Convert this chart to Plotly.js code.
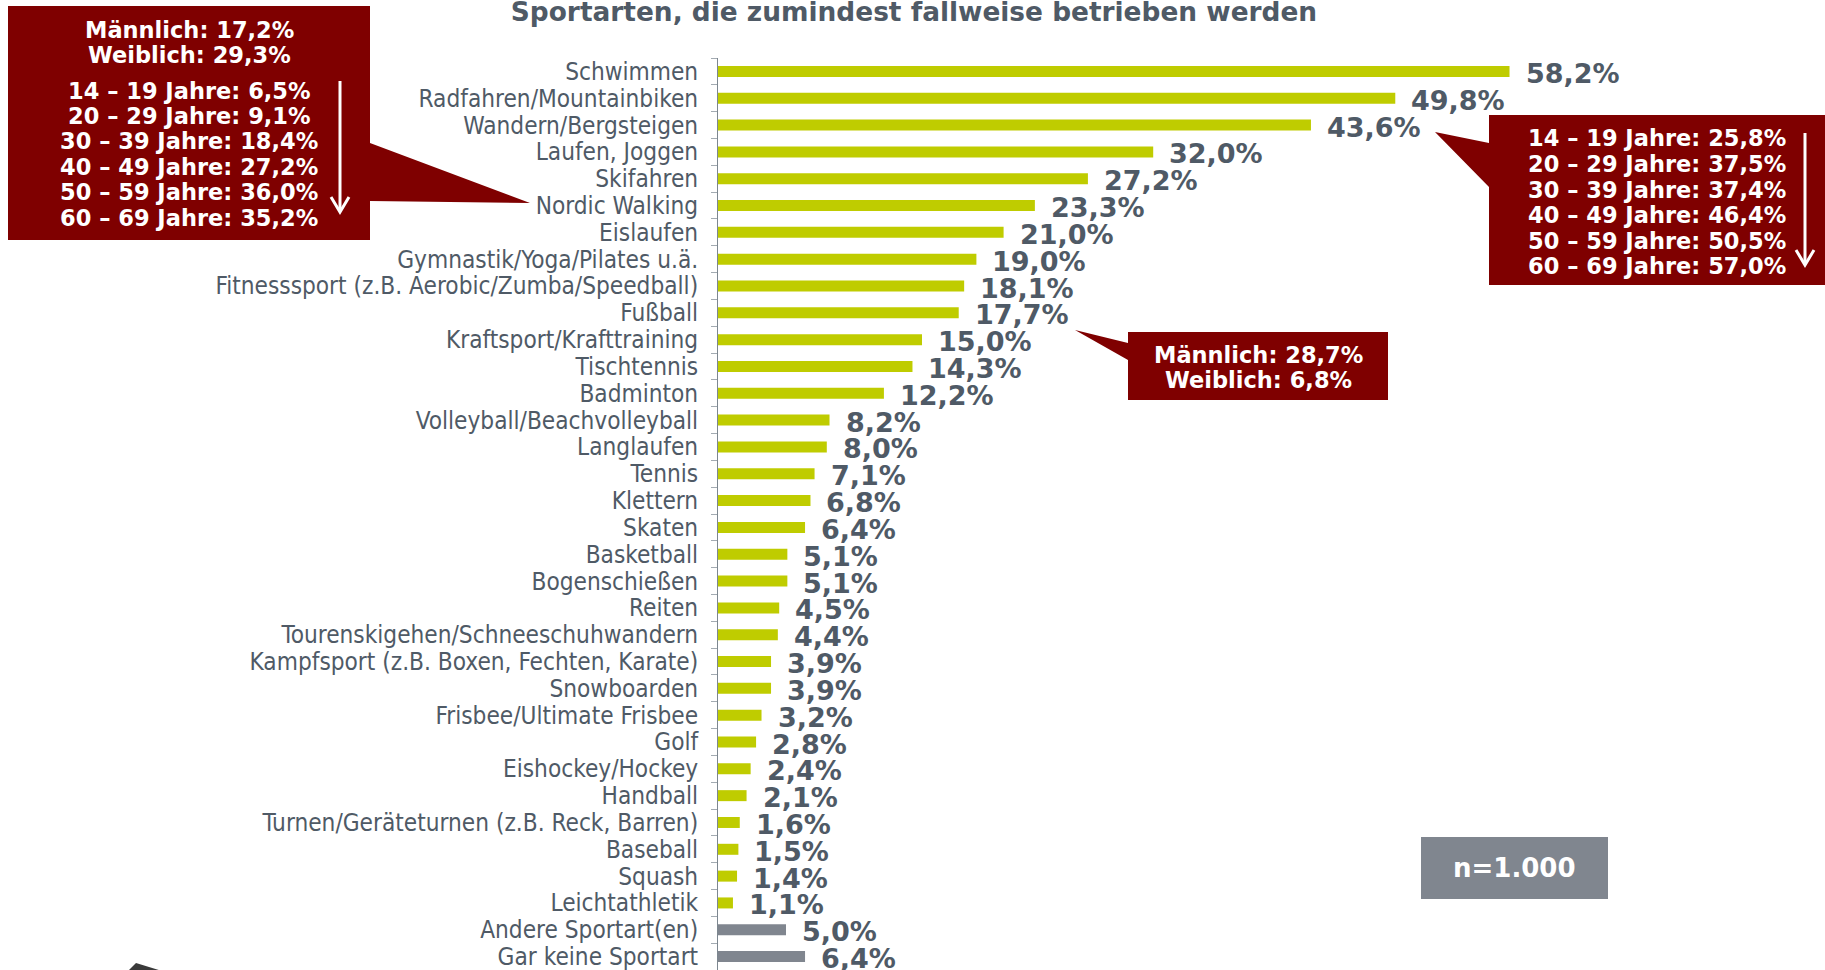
<!DOCTYPE html>
<html>
<head>
<meta charset="utf-8">
<script src="https://cdn.plot.ly/plotly-3.0.1.min.js"></script>
<style>
  html, body { margin: 0; padding: 0; background: #fff; }
  #chart { width: 1825px; height: 970px; }
</style>
</head>
<body>
<div id="chart"></div>
<script>
// Sportarten, die zumindest fallweise betrieben werden (n=1.000)
const categories = [
  'Schwimmen', 'Radfahren/Mountainbiken', 'Wandern/Bergsteigen', 'Laufen, Joggen',
  'Skifahren', 'Nordic Walking', 'Eislaufen', 'Gymnastik/Yoga/Pilates u.ä.',
  'Fitnesssport (z.B. Aerobic/Zumba/Speedball)', 'Fußball', 'Kraftsport/Krafttraining',
  'Tischtennis', 'Badminton', 'Volleyball/Beachvolleyball', 'Langlaufen', 'Tennis',
  'Klettern', 'Skaten', 'Basketball', 'Bogenschießen', 'Reiten',
  'Tourenskigehen/Schneeschuhwandern', 'Kampfsport (z.B. Boxen, Fechten, Karate)',
  'Snowboarden', 'Frisbee/Ultimate Frisbee', 'Golf', 'Eishockey/Hockey', 'Handball',
  'Turnen/Geräteturnen (z.B. Reck, Barren)', 'Baseball', 'Squash', 'Leichtathletik',
  'Andere Sportart(en)', 'Gar keine Sportart'
];
const values = [
  58.2, 49.8, 43.6, 32.0, 27.2, 23.3, 21.0, 19.0, 18.1, 17.7, 15.0, 14.3, 12.2,
  8.2, 8.0, 7.1, 6.8, 6.4, 5.1, 5.1, 4.5, 4.4, 3.9, 3.9, 3.2, 2.8, 2.4, 2.1,
  1.6, 1.5, 1.4, 1.1, 5.0, 6.4
];
const otherCategories = ['Andere Sportart(en)', 'Gar keine Sportart'];

// callout contents
const ageGroups = ['14 – 19', '20 – 29', '30 – 39', '40 – 49', '50 – 59', '60 – 69'];
const nordicGender = [17.2, 29.3];   // Männlich, Weiblich
const nordicAge = [6.5, 9.1, 18.4, 27.2, 36.0, 35.2];
const wandernAge = [25.8, 37.5, 37.4, 46.4, 50.5, 57.0];
const fussballGender = [28.7, 6.8];
const sampleSize = 'n=1.000';

const LIME = '#bfcc00';
const GREY = '#80868f';
const TEXT = '#4f5a66';
const RED = '#7f0000';

// plot area in pixels
const W = 1825, H = 970;
const M = { l: 718, r: 0, t: 58, b: 0 };
const plotW = W - M.l - M.r;
const plotH = H - M.t - M.b;
const px = x => (x - M.l) / plotW;
const py = y => 1 - (y - M.t) / plotH;

const pct = v => v.toFixed(1).replace('.', ',') + '%';

const bars = {
  type: 'bar',
  orientation: 'h',
  x: values,
  y: categories,
  marker: { color: categories.map(c => otherCategories.includes(c) ? GREY : LIME) },
  hoverinfo: 'skip'
};

const annotations = [];

// value labels
values.forEach((v, i) => {
  annotations.push({
    x: v, y: categories[i], xref: 'x', yref: 'y',
    text: '<b>' + pct(v) + '</b>',
    showarrow: false, xanchor: 'left', yanchor: 'middle',
    xshift: 14, yshift: -2,
    font: { family: 'DejaVu Sans', size: 27, color: TEXT }
  });
});

// helper for callout text lines
function addLines(lines, cx, ys) {
  lines.forEach((t, i) => {
    annotations.push({
      x: px(cx), y: py(ys[i]), xref: 'paper', yref: 'paper',
      text: '<b>' + t + '</b>', showarrow: false,
      xanchor: 'center', yanchor: 'middle',
      font: { family: 'DejaVu Sans', size: 22.5, color: '#ffffff' }
    });
  });
}

const genderLines = g => ['Männlich: ' + pct(g[0]), 'Weiblich: ' + pct(g[1])];
const ageLines = a => ageGroups.map((g, i) => g + ' Jahre: ' + pct(a[i]));

addLines(genderLines(nordicGender).concat(ageLines(nordicAge)), 189,
  [30, 55.5, 90.5, 116, 141.5, 167, 192.5, 218]);
addLines(ageLines(wandernAge), 1657, [138, 164, 189.5, 215, 240.5, 266]);
addLines(genderLines(fussballGender), 1258, [355, 380]);

// n box label
annotations.push({
  x: px(1514), y: py(868), xref: 'paper', yref: 'paper',
  text: '<b>' + sampleSize + '</b>', showarrow: false,
  xanchor: 'center', yanchor: 'middle',
  font: { family: 'DejaVu Sans', size: 26, color: '#ffffff' }
});

// shapes: callout boxes built from pixel points
function poly(points, fill) {
  const d = points.map((p, i) => (i ? 'L' : 'M') + px(p[0]) + ',' + py(p[1])).join(' ') + ' Z';
  return { type: 'path', xref: 'paper', yref: 'paper', path: d,
    fillcolor: fill, line: { width: 0 }, layer: 'above' };
}
function arrow(x, y0, y1) {
  const d = 'M' + px(x - 9) + ',' + py(y1 - 15) + ' L' + px(x) + ',' + py(y1) +
            ' L' + px(x + 9) + ',' + py(y1 - 15);
  return [
    { type: 'line', xref: 'paper', yref: 'paper', x0: px(x), x1: px(x), y0: py(y0), y1: py(y1 - 1),
      line: { color: '#ffffff', width: 3 }, layer: 'above' },
    { type: 'path', xref: 'paper', yref: 'paper', path: d,
      line: { color: '#ffffff', width: 3 }, layer: 'above' }
  ];
}

const shapes = [
  // Nordic Walking
  poly([[8, 6], [370, 6], [370, 143], [530, 203], [370, 201], [370, 240], [8, 240]], RED),
  // Wandern/Bergsteigen
  poly([[1489, 115], [1830, 115], [1830, 285], [1489, 285], [1489, 187], [1435, 132], [1489, 143]], RED),
  // Fußball
  poly([[1128, 332], [1388, 332], [1388, 400], [1128, 400], [1128, 360], [1075, 330], [1128, 343]], RED),
  // n box
  poly([[1421, 837], [1608, 837], [1608, 899], [1421, 899]], GREY),
  // cut-off arrow tip at the bottom left
  poly([[128, 971], [136, 963], [162, 971]], '#3a3a3a'),
  ...arrow(340, 81, 212),
  ...arrow(1805, 133, 265)
];

const layout = {
  width: W,
  height: H,
  paper_bgcolor: '#ffffff',
  plot_bgcolor: '#ffffff',
  margin: M,
  showlegend: false,
  bargap: 0.59,
  title: {
    text: '<b>Sportarten, die zumindest fallweise betrieben werden</b>',
    font: { family: 'DejaVu Sans', size: 26.4, color: TEXT },
    x: 914 / W, xanchor: 'center',
    y: 1 - 12 / H, yanchor: 'middle', yref: 'container'
  },
  xaxis: {
    range: [0, plotW / 13.6],
    visible: false,
    fixedrange: true
  },
  yaxis: {
    type: 'category',
    range: [categories.length - 0.5, -0.5],
    tickmode: 'array',
    tickvals: categories,
    ticktext: categories,
    showline: true,
    linecolor: '#7d8790',
    linewidth: 1,
    ticks: 'outside',
    tickson: 'boundaries',
    ticklen: 6,
    tickcolor: '#a3abb2',
    ticklabelstandoff: 14,
    showgrid: false,
    zeroline: false,
    tickfont: { family: 'DejaVu Sans Condensed', size: 24.2, color: TEXT },
    fixedrange: true
  },
  annotations: annotations,
  shapes: shapes
};

Plotly.newPlot('chart', [bars], layout, { displayModeBar: false, staticPlot: true });
</script>
</body>
</html>
